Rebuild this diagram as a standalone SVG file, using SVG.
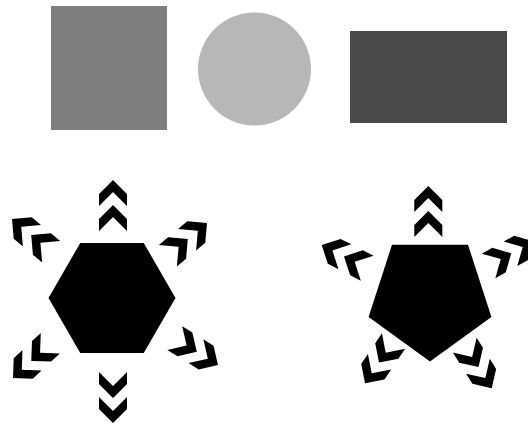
<svg xmlns="http://www.w3.org/2000/svg" xmlns:xlink="http://www.w3.org/1999/xlink" width="528" height="425" viewBox="0 0 528 425">
  <defs>
    <path id="chev" d="M0,0 L-14,-14 L-26,-14 L-12,0 L-26,14 L-14,14 Z"/>
  </defs>
  <style>
    .chev { fill: #000; }
    .poly { fill: #000; }
  </style>
  <rect width="528" height="425" fill="#ffffff"/>
  <g id="square"><rect x="51" y="6" width="116" height="124" fill="#7f7f7f"/></g>
  <g id="circle"><circle cx="254.5" cy="69" r="56.5" fill="#b7b7b7"/></g>
  <g id="rectangle"><rect x="350" y="31" width="157" height="92" fill="#4a4a4a"/></g>
  <g id="hexagon"><polygon class="poly" points="175.5,298 143.75,353 80.25,353 48.5,298 80.25,243 143.75,243"/></g>
  <g id="pentagon"><polygon class="poly" points="430,361.6 491.4,317 468,244.7 392,244.7 368.6,317"/></g>
  <g id="connectors" class="chev">
    <!-- hexagon chevrons -->
    <use xlink:href="#chev" href="#chev" transform="translate(113,180) rotate(-90)"/>
    <use xlink:href="#chev" href="#chev" transform="translate(113,205) rotate(-90)"/>
    <use xlink:href="#chev" href="#chev" transform="translate(113,423) rotate(90)"/>
    <use xlink:href="#chev" href="#chev" transform="translate(113,398) rotate(90)"/>
    <use xlink:href="#chev" href="#chev" transform="translate(12,219) rotate(-140)"/>
    <use xlink:href="#chev" href="#chev" transform="translate(31.2,235.1) rotate(-140)"/>
    <use xlink:href="#chev" href="#chev" transform="translate(207,223) rotate(-40)"/>
    <use xlink:href="#chev" href="#chev" transform="translate(187.8,239.1) rotate(-40)"/>
    <use xlink:href="#chev" href="#chev" transform="translate(218,365) rotate(32)"/>
    <use xlink:href="#chev" href="#chev" transform="translate(196.8,351.8) rotate(32)"/>
    <use xlink:href="#chev" href="#chev" transform="translate(13,378) rotate(137)"/>
    <use xlink:href="#chev" href="#chev" transform="translate(31.3,360.9) rotate(137)"/>
    <!-- pentagon chevrons -->
    <use xlink:href="#chev" href="#chev" transform="translate(428.3,186) rotate(-90)"/>
    <use xlink:href="#chev" href="#chev" transform="translate(428.3,211) rotate(-90)"/>
    <use xlink:href="#chev" href="#chev" transform="translate(321.7,245) rotate(-153)"/>
    <use xlink:href="#chev" href="#chev" transform="translate(344,256.4) rotate(-153)"/>
    <use xlink:href="#chev" href="#chev" transform="translate(533.2,241.2) rotate(-29)"/>
    <use xlink:href="#chev" href="#chev" transform="translate(511.3,253.3) rotate(-29)"/>
    <use xlink:href="#chev" href="#chev" transform="translate(365,383.3) rotate(124)"/>
    <use xlink:href="#chev" href="#chev" transform="translate(379,362.6) rotate(124)"/>
    <use xlink:href="#chev" href="#chev" transform="translate(491.7,388.3) rotate(58)"/>
    <use xlink:href="#chev" href="#chev" transform="translate(478.5,367.1) rotate(58)"/>
  </g>
</svg>
